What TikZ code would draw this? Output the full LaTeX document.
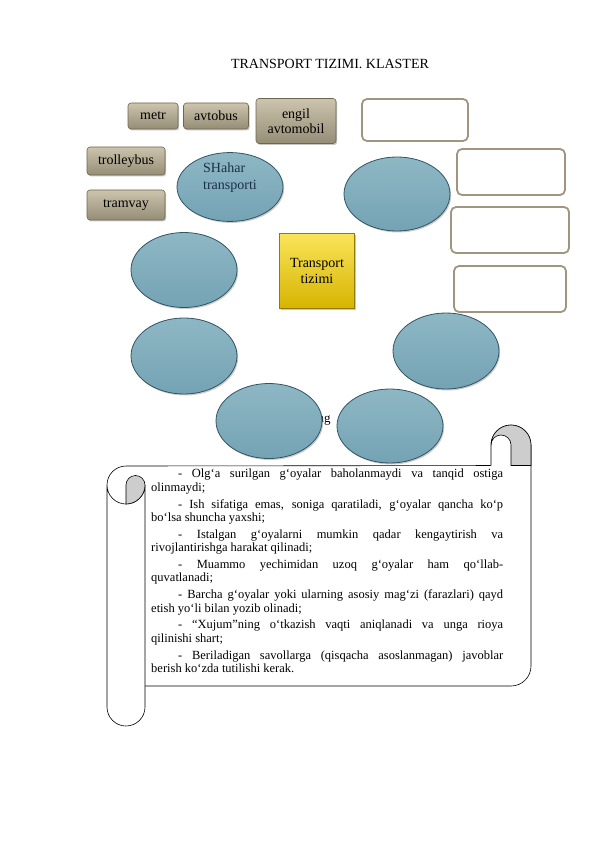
\documentclass[tikz,border=0pt]{standalone}
\usepackage{fontspec}
\setmainfont{Liberation Serif}
\usepackage{xcolor}
\usepackage{tikz}
\usetikzlibrary{shapes.geometric,shadows}

\definecolor{boxline}{RGB}{110,102,80}
\definecolor{boxtop}{RGB}{204,196,172}
\definecolor{boxbot}{RGB}{150,141,118}
\definecolor{elltop}{RGB}{142,183,196}
\definecolor{ellmid}{RGB}{100,149,168}
\definecolor{ellbot}{RGB}{116,163,180}
\definecolor{ellline}{RGB}{48,84,102}
\definecolor{goldtop}{RGB}{250,228,90}
\definecolor{goldbot}{RGB}{214,180,0}
\definecolor{emptyline}{RGB}{160,150,128}
\definecolor{rollgrey}{RGB}{205,205,205}

\begin{document}
\begin{tikzpicture}[x=1pt,y=1pt,yscale=-1,xscale=1,
  vehbox/.style={draw=boxline, line width=0.6pt, rounded corners=3pt, top color=boxtop, bottom color=boxbot,
    drop shadow={opacity=0.45, shadow xshift=1.2pt, shadow yshift=-1.5pt}, inner sep=0pt, align=center,
    font=\fontsize{14}{15}\selectfont},
  cloud/.style={ellipse, draw=ellline, line width=0.8pt, top color=elltop, middle color=ellmid, bottom color=ellbot,
    drop shadow={opacity=0.4, shadow xshift=1.2pt, shadow yshift=-1.5pt}, minimum width=106pt, inner sep=0pt},
  emptybox/.style={draw=emptyline, line width=1.8pt, rounded corners=5pt, fill=white, inner sep=0pt},
  scrollline/.style={draw=black, line width=0.6pt}]
\useasboundingbox (0,0) rectangle (596,842);

% Text Node
\node (title) at (330,64) {\fontsize{14}{16}\selectfont TRANSPORT TIZIMI. KLASTER};

%Shape: Rectangle - vehicles
\node [vehbox, minimum width=50pt, minimum height=26pt] (metr) at (153,116) {metr};
\node [vehbox, minimum width=65pt, minimum height=26pt] (avtobus) at (216,116) {avtobus};
\node [vehbox, minimum width=80pt, minimum height=45pt] (engil) at (296,121) {engil\\avtomobil};
\node [vehbox, minimum width=78pt, minimum height=28pt] (trolleybus) at (126,161) {trolleybus};
\node [vehbox, minimum width=78pt, minimum height=30pt] (tramvay) at (126,205) {tramvay};

%Shape: Rectangle - empty boxes
\node [emptybox, minimum width=106pt, minimum height=42pt] (bosh1) at (415,120) {};
\node [emptybox, minimum width=108pt, minimum height=46pt] (bosh2) at (511,172) {};
\node [emptybox, minimum width=118pt, minimum height=46pt] (bosh3) at (510,230) {};
\node [emptybox, minimum width=112pt, minimum height=46pt] (bosh4) at (510,289) {};

% Text Node
\node (ng) at (324,421) {\fontsize{13}{14}\selectfont ng};

%Shape: Ellipse
\node [cloud, minimum height=68pt, align=left, text={rgb,255:red,28;green,46;blue,74},
  font=\fontsize{14}{17}\selectfont] (shahar) at (230,187) {SHahar\\transporti\\[5pt]};
\node [cloud, minimum height=74pt] (ell1) at (397,194) {};
\node [cloud, minimum height=75pt] (ell2) at (184,270) {};
\node [cloud, minimum height=76pt] (ell3) at (184,356) {};
\node [cloud, minimum height=76pt] (ell4) at (446,351) {};
\node [cloud, minimum height=75pt] (ell5) at (269,421) {};
\node [cloud, minimum height=74pt] (ell6) at (390,426) {};

%Shape: Square - centre
\node [draw={rgb,255:red,150;green,122;blue,0}, line width=0.8pt, top color=goldtop, bottom color=goldbot,
  drop shadow={opacity=0.45, shadow xshift=1.5pt, shadow yshift=-1.5pt},
  minimum width=75pt, minimum height=75pt, inner sep=0pt, align=center,
  font=\fontsize{14}{16}\selectfont] (tizim) at (317,271) {Transport\\tizimi};

%Shape: Scroll
\fill [white] (126.5,465.5) -- (531,465.5) -- (531,686) -- (126.5,686) -- cycle;
\draw [scrollline] (107,485) arc[start angle=180, end angle=270, radius=19] -- (511,465.5);
\draw [scrollline, fill=white] (491,465.5) -- (491,445) arc[start angle=180, end angle=360, radius=20]
  -- (531,666) arc[start angle=0, end angle=90, radius=20] -- (145,686);
\draw [scrollline, fill=rollgrey] (491,445) arc[start angle=180, end angle=360, radius=20] -- (531,465.5)
  -- (511,465.5) -- (511,445) arc[start angle=0, end angle=-180, radius=10] -- cycle;
\draw [scrollline, fill=white] (107,485) -- (107,707) arc[start angle=180, end angle=0, radius=19]
  -- (145,485) arc[start angle=0, end angle=180, radius=19] -- cycle;
\draw [scrollline, fill=rollgrey] (126,504) -- (126,485) arc[start angle=180, end angle=360, radius=9.5]
  arc[start angle=0, end angle=90, radius=19] -- cycle;

% Text Node
\node [anchor=north west, inner sep=0pt] (qoidalar) at (151,469) {\parbox{352pt}{%
  \fontsize{12.5}{13.4}\selectfont\setlength{\parindent}{27pt}\setlength{\parskip}{3.4pt}%
  - Olg‘a surilgan g‘oyalar baholanmaydi va tanqid ostiga\linebreak olinmaydi;\par
  - Ish sifatiga emas, soniga qaratiladi, g‘oyalar qancha ko‘p\linebreak bo‘lsa shuncha yaxshi;\par
  - Istalgan g‘oyalarni mumkin qadar kengaytirish va\linebreak rivojlantirishga harakat qilinadi;\par
  - Muammo yechimidan uzoq g‘oyalar ham qo‘llab-\linebreak quvatlanadi;\par
  - Barcha g‘oyalar yoki ularning asosiy mag‘zi (farazlari) qayd\linebreak etish yo‘li bilan yozib olinadi;\par
  - “Xujum”ning o‘tkazish vaqti aniqlanadi va unga rioya\linebreak qilinishi shart;\par
  - Beriladigan savollarga (qisqacha asoslanmagan) javoblar\linebreak berish ko‘zda tutilishi kerak.}};

\end{tikzpicture}
\end{document}
